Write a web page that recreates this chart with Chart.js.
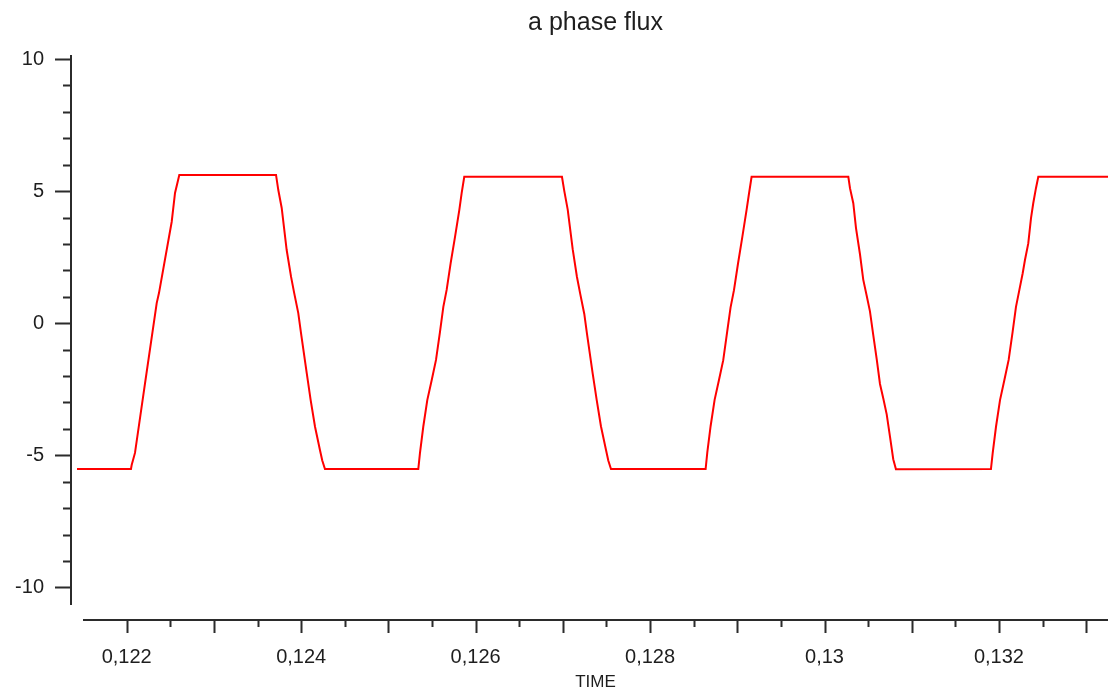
<!DOCTYPE html>
<html>
<head>
<meta charset="utf-8">
<title>a phase flux</title>
<script src="https://cdn.jsdelivr.net/npm/chart.js@4.4.1/dist/chart.umd.min.js"></script>
<style>
  html, body { margin: 0; padding: 0; background: #fff; }
  #wrap { width: 1108px; height: 693px; }
</style>
</head>
<body>
<div id="wrap"><canvas id="fluxChart" width="1108" height="693"></canvas></div>
<script>
// time (s) and flux values
const timeValues = [
  0.12143,
  0.122049, 0.122057, 0.122095, 0.122210, 0.122344, 0.122370, 0.122516, 0.122554, 0.122603,
  0.123712, 0.123738, 0.123777, 0.123834, 0.123884, 0.123921, 0.123967, 0.123998, 0.124064, 0.124109, 0.124159, 0.124216, 0.124242, 0.124273,
  0.125343, 0.125362, 0.125400, 0.125446, 0.125497, 0.125546, 0.125592, 0.125630, 0.125668, 0.125714, 0.125764, 0.125813, 0.125840, 0.125870,
  0.126990, 0.127017, 0.127056, 0.127113, 0.127162, 0.127200, 0.127246, 0.127277, 0.127342, 0.127388, 0.127437, 0.127495, 0.127521, 0.127552,
  0.128637, 0.128656, 0.128694, 0.128740, 0.128790, 0.128839, 0.128885, 0.128923, 0.128962, 0.129008, 0.129057, 0.129107, 0.129134, 0.129164,
  0.130273, 0.130292, 0.130330, 0.130361, 0.130407, 0.130444, 0.130483, 0.130521, 0.130559, 0.130598, 0.130636, 0.130674, 0.130713, 0.130751, 0.130788, 0.130819,
  0.131908, 0.131928, 0.131966, 0.132012, 0.132062, 0.132111, 0.132157, 0.132195, 0.132234, 0.132272, 0.132298, 0.132336, 0.132367, 0.132393, 0.132424, 0.132451,
  0.133250
];
const fluxValues = [
  -5.52,
  -5.52, -5.37, -4.91, -2.28, 0.76, 1.14, 3.84, 4.93, 5.61,
  5.61, 5.04, 4.36, 2.77, 1.76, 1.13, 0.38, -0.37, -1.89, -2.91, -3.92, -4.81, -5.20, -5.52,
  -5.52, -4.92, -3.92, -2.91, -2.15, -1.39, -0.32, 0.62, 1.26, 2.27, 3.27, 4.28, 4.92, 5.54,
  5.54, 5.00, 4.30, 2.80, 1.75, 1.10, 0.35, -0.40, -1.90, -2.90, -3.90, -4.80, -5.20, -5.52,
  -5.52, -4.90, -3.90, -2.90, -2.15, -1.40, -0.30, 0.60, 1.25, 2.25, 3.25, 4.30, 4.90, 5.54,
  5.54, 5.11, 4.54, 3.60, 2.60, 1.65, 1.05, 0.45, -0.45, -1.35, -2.30, -2.85, -3.45, -4.30, -5.15, -5.53,
  -5.52, -4.92, -3.92, -2.91, -2.15, -1.39, -0.32, 0.62, 1.26, 1.89, 2.39, 3.02, 3.97, 4.54, 5.11, 5.54,
  5.54
];

// axis ticks
const xLabelTicks = [0.122, 0.124, 0.126, 0.128, 0.130, 0.132];
const xMajorTicks = [0.122, 0.123, 0.124, 0.125, 0.126, 0.127, 0.128, 0.129, 0.130, 0.131, 0.132, 0.133];
const xMinorTicks = [0.1225, 0.1235, 0.1245, 0.1255, 0.1265, 0.1275, 0.1285, 0.1295, 0.1305, 0.1315, 0.1325];
const yLabelTicks = [-10, -5, 0, 5, 10];
const yMinorTicks = [-9, -8, -7, -6, -4, -3, -2, -1, 1, 2, 3, 4, 6, 7, 8, 9];

const axisColor = '#2b2b2b';
const textColor = '#1e1e1e';
const FONT = '"Liberation Sans", Arial, sans-serif';

// plain axes drawn by hand (the y axis sits left of the plot, x axis below it)
const axesPlugin = {
  id: 'plainAxes',
  afterDraw(chart) {
    const { ctx, scales: { x, y }, chartArea } = chart;
    const yAxisX = chartArea.left - 12;
    ctx.save();
    ctx.strokeStyle = axisColor;
    ctx.lineWidth = 2;
    ctx.beginPath();
    // y axis line
    ctx.moveTo(yAxisX, chartArea.top);
    ctx.lineTo(yAxisX, y.getPixelForValue(-10.67));
    yLabelTicks.forEach(v => {
      const py = Math.round(y.getPixelForValue(v)) + 0.5;
      ctx.moveTo(yAxisX - 16, py);
      ctx.lineTo(yAxisX, py);
    });
    yMinorTicks.forEach(v => {
      const py = Math.round(y.getPixelForValue(v)) + 0.5;
      ctx.moveTo(yAxisX - 8, py);
      ctx.lineTo(yAxisX, py);
    });
    // x axis line
    const base = chartArea.bottom;
    ctx.moveTo(chartArea.left, base);
    ctx.lineTo(chartArea.right, base);
    xMajorTicks.forEach(v => {
      const px = Math.round(x.getPixelForValue(v)) + 0.5;
      ctx.moveTo(px, base);
      ctx.lineTo(px, base + 13);
    });
    xMinorTicks.forEach(v => {
      const px = Math.round(x.getPixelForValue(v)) + 0.5;
      ctx.moveTo(px, base);
      ctx.lineTo(px, base + 7);
    });
    ctx.stroke();
    ctx.restore();
  }
};

const points = timeValues.map((t, i) => ({ x: t, y: fluxValues[i] }));

new Chart(document.getElementById('fluxChart'), {
  type: 'line',
  data: {
    datasets: [{
      label: 'a phase flux',
      data: points,
      borderColor: '#ff0000',
      borderWidth: 2,
      pointRadius: 0,
      tension: 0,
      fill: false,
      clip: false
    }]
  },
  options: {
    responsive: false,
    animation: false,
    layout: { padding: 0 },
    plugins: {
      legend: { display: false },
      tooltip: { enabled: false },
      title: {
        display: true,
        text: 'a phase flux',
        fullSize: false,
        color: textColor,
        font: { family: FONT, size: 25, weight: 'normal', lineHeight: 1.2 },
        padding: { top: 8, bottom: 17 }
      }
    },
    scales: {
      x: {
        type: 'linear',
        min: 0.121499,
        max: 0.13325,
        grid: { display: false, drawTicks: false },
        border: { display: false },
        afterBuildTicks: s => { s.ticks = xLabelTicks.map(v => ({ value: v })); },
        afterFit: s => { s.height = 73; },
        ticks: {
          color: textColor,
          padding: 25,
          maxRotation: 0,
          autoSkip: false,
          font: { family: FONT, size: 20 },
          callback: v => String(Number(v.toFixed(4))).replace('.', ',')
        },
        title: {
          display: true,
          text: 'TIME',
          color: textColor,
          font: { family: FONT, size: 17 },
          padding: { top: 0, bottom: 0 }
        }
      },
      y: {
        type: 'linear',
        min: -11.234,
        max: 10.151,
        grid: { display: false, drawTicks: false },
        border: { display: false },
        afterBuildTicks: s => { s.ticks = yLabelTicks.map(v => ({ value: v })); },
        afterFit: s => { s.width = 83; },
        ticks: {
          color: textColor,
          padding: 39,
          autoSkip: false,
          font: { family: FONT, size: 20 }
        }
      }
    }
  },
  plugins: [axesPlugin]
});
</script>
</body>
</html>
